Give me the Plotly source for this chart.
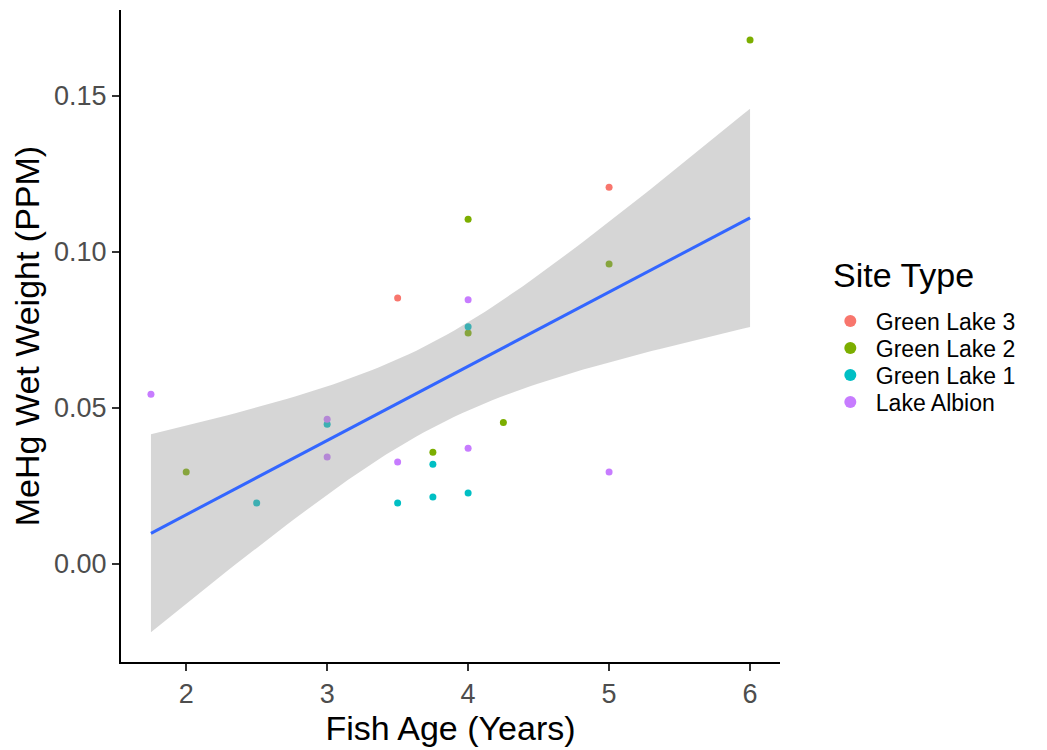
import numpy as np
import plotly.graph_objects as go

# Data (Fish Age in years, MeHg wet weight in PPM)
sites = ["Green Lake 3", "Green Lake 2", "Green Lake 1", "Lake Albion"]
colors = ["#F8766D", "#7CAE00", "#00BFC4", "#C77CFF"]

gl3_age = [3.5, 5.0]
gl3_mehg = [0.0852, 0.1207]

gl2_age = [2.0, 4.0, 4.0, 3.75, 4.25, 5.0, 6.0]
gl2_mehg = [0.0294, 0.1104, 0.0740, 0.0357, 0.0453, 0.0961, 0.1679]

gl1_age = [2.5, 3.0, 3.5, 3.75, 3.75, 4.0, 4.0]
gl1_mehg = [0.0195, 0.0447, 0.0195, 0.0319, 0.0214, 0.0760, 0.0227]

la_age = [1.75, 3.0, 3.0, 3.5, 4.0, 4.0, 5.0]
la_mehg = [0.0543, 0.0463, 0.0342, 0.0326, 0.0846, 0.0370, 0.0294]

ages = [gl3_age, gl2_age, gl1_age, la_age]
vals = [gl3_mehg, gl2_mehg, gl1_mehg, la_mehg]

x_ticks = [2, 3, 4, 5, 6]
y_ticks = [0.0, 0.05, 0.10, 0.15]
y_ticktext = ["0.00", "0.05", "0.10", "0.15"]

x_title = "Fish Age (Years)"
y_title = "MeHg Wet Weight (PPM)"
legend_title = "Site Type"

# Linear model fit with 95% confidence band (like geom_smooth(method="lm"))
X = np.array(sum(ages, []))
Y = np.array(sum(vals, []))
n = len(X)
b1, b0 = np.polyfit(X, Y, 1)
resid = Y - (b0 + b1 * X)
s = np.sqrt(np.sum(resid ** 2) / (n - 2))
xm = X.mean()
sxx = np.sum((X - xm) ** 2)
t975 = 2.0739  # t quantile, df = 22
xs = np.linspace(X.min(), X.max(), 80)
yfit = b0 + b1 * xs
se = s * np.sqrt(1 / n + (xs - xm) ** 2 / sxx)
upper = yfit + t975 * se
lower = yfit - t975 * se

legend_ids = ["legend", "legend2", "legend3", "legend4"]

fig = go.Figure()
for name, col, a, v, lg in zip(sites, colors, ages, vals, legend_ids):
    fig.add_trace(go.Scatter(x=a, y=v, mode="markers", name=name, legend=lg,
                             marker=dict(color=col, size=7, line=dict(width=0))))

fig.add_trace(go.Scatter(x=np.concatenate([xs, xs[::-1]]),
                         y=np.concatenate([upper, lower[::-1]]),
                         fill="toself", fillcolor="rgba(153,153,153,0.4)",
                         line=dict(width=0), mode="lines", showlegend=False,
                         hoverinfo="skip"))
fig.add_trace(go.Scatter(x=xs, y=yfit, mode="lines", showlegend=False,
                         line=dict(color="#3366FF", width=3)))

font_family = "Liberation Sans, Arial, Helvetica, sans-serif"

legend_y = [0.5230, 0.4816, 0.4402, 0.3988]
legend_common = dict(font=dict(size=23, color="black"), x=1.068, xanchor="left",
                     yanchor="middle", itemsizing="constant", itemwidth=41,
                     bgcolor="rgba(0,0,0,0)", borderwidth=0)
legends = {}
for lg, yy in zip(legend_ids, legend_y):
    legends[lg] = dict(legend_common, y=yy)

fig.update_layout(
    width=1039, height=742,
    paper_bgcolor="white", plot_bgcolor="white",
    margin=dict(l=113, r=267, t=2, b=88),
    font=dict(family=font_family, color="black"),
    **legends,
    annotations=[dict(text=legend_title, xref="paper", yref="paper",
                      x=1.077, y=0.5936, xanchor="left", yanchor="middle",
                      showarrow=False, font=dict(size=34, color="black"))],
    xaxis=dict(
        range=[1.5375, 6.2125], tickvals=x_ticks,
        showgrid=False, zeroline=False,
        showline=True, linecolor="black", linewidth=2,
        ticks="outside", ticklen=7, tickwidth=1.5, tickcolor="#333333",
        tickfont=dict(size=27, color="#4D4D4D"),
        title=dict(text=x_title, font=dict(size=34, color="black"), standoff=2),
    ),
    yaxis=dict(
        range=[-0.0315, 0.1775], tickvals=y_ticks, ticktext=y_ticktext,
        showgrid=False, zeroline=False,
        showline=True, linecolor="black", linewidth=2,
        ticks="outside", ticklen=7, tickwidth=1.5, tickcolor="#333333",
        tickfont=dict(size=27, color="#4D4D4D"),
        title=dict(text=y_title, font=dict(size=34, color="black"), standoff=6),
    ),
)

fig.write_html("out.html")
